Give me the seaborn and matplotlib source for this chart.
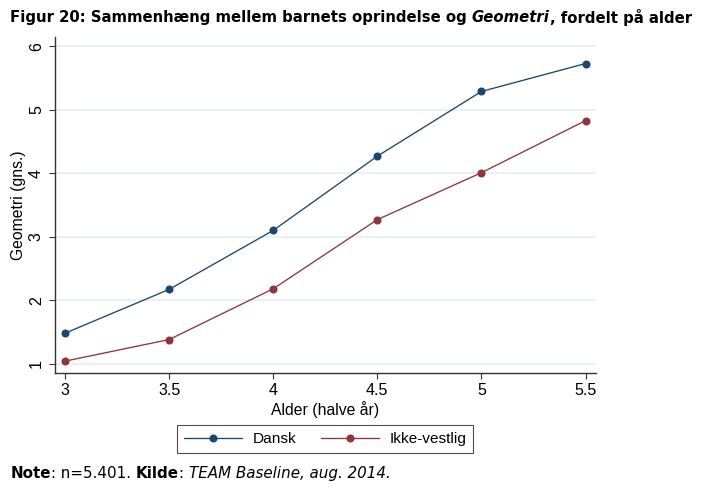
import matplotlib
matplotlib.use('Agg')
import matplotlib.pyplot as plt
import seaborn as sns
import pandas as pd

sns.set_theme(style='white')
plt.rcParams['font.family'] = ['Liberation Sans', 'DejaVu Sans']
plt.rcParams['text.color'] = 'black'
plt.rcParams['axes.labelcolor'] = 'black'
plt.rcParams['xtick.color'] = 'black'
plt.rcParams['ytick.color'] = 'black'

# data
alder = [3, 3.5, 4, 4.5, 5, 5.5]
dansk = [1.48, 2.17, 3.10, 4.27, 5.29, 5.73]
ikke_vestlig = [1.04, 1.38, 2.18, 3.27, 4.01, 4.83]
grupper = ['Dansk', 'Ikke-vestlig']
farver = ['#1a476f', '#90353b']

df = pd.DataFrame({
    'Alder': alder * 2,
    'Geometri': dansk + ikke_vestlig,
    'Gruppe': [grupper[0]] * len(alder) + [grupper[1]] * len(alder),
})

fig = plt.figure(figsize=(7.05, 4.94), dpi=100)
ax = fig.add_axes([0.078, 0.2443, 0.767, 0.681])

sns.lineplot(data=df, x='Alder', y='Geometri', hue='Gruppe', palette=farver,
             marker='o', markersize=5.8, markeredgewidth=0, linewidth=0.95,
             ax=ax, legend=False)

ax.set_xlim(2.952, 5.549)
ax.set_ylim(0.848, 6.15)
ax.set_xticks(alder)
ax.set_xticklabels(['3', '3.5', '4', '4.5', '5', '5.5'])
ax.set_yticks([1, 2, 3, 4, 5, 6])
ax.set_yticklabels(['1', '2', '3', '4', '5', '6'], rotation=90, va='center')
ax.tick_params(axis='both', which='both', length=4, width=0.8, color='#333333',
               labelsize=11.5, pad=3, left=True, bottom=True)
ax.tick_params(axis='y', pad=4)
ax.grid(axis='y', color='#e6eff1', linewidth=1.2)
ax.grid(axis='x', visible=False)
for side in ['top', 'right']:
    ax.spines[side].set_visible(False)
for side in ['left', 'bottom']:
    ax.spines[side].set_color('#333333')
    ax.spines[side].set_linewidth(1.0)

ax.set_xlabel('Alder (halve år)', fontsize=11.3, labelpad=2)
ax.set_ylabel('Geometri (gns.)', fontsize=11.3, labelpad=2)

handles = [plt.Line2D([], [], color=c, marker='o', markersize=5.8,
                      markeredgewidth=0, linewidth=0.95) for c in farver]
leg = ax.legend(handles, grupper, loc='upper center', bbox_to_anchor=(0.461, 0.1397),
                bbox_transform=fig.transFigure, borderaxespad=0,
                ncol=2, frameon=True, fancybox=False, edgecolor='#222222',
                fontsize=11.1, handlelength=3.8, handletextpad=0.65,
                columnspacing=1.6, borderpad=0.45)
leg.get_frame().set_linewidth(0.8)


def tekst_efter(forrige, s, y, **kw):
    # placer tekst lige efter den forrige
    fig.canvas.draw()
    x = forrige.get_window_extent().x1 / fig.bbox.width
    return fig.text(x, y, s, va='center', family='DejaVu Sans', **kw)


ty = 0.9636
t1 = fig.text(0.0142, ty, 'Figur 20: Sammenhæng mellem barnets oprindelse og ',
              fontsize=10.7, fontweight='bold', family='DejaVu Sans', va='center')
t2 = tekst_efter(t1, 'Geometri', ty, fontsize=10.7, fontweight='bold', style='italic')
tekst_efter(t2, ', fordelt på alder', ty, fontsize=10.7, fontweight='bold')

ny = 0.0415
n1 = fig.text(0.0152, ny, 'Note', fontsize=10.9, fontweight='bold',
              family='DejaVu Sans', va='center')
n2 = tekst_efter(n1, ': n=5.401. ', ny, fontsize=10.9)
n3 = tekst_efter(n2, 'Kilde', ny, fontsize=10.9, fontweight='bold')
n4 = tekst_efter(n3, ': ', ny, fontsize=10.9)
tekst_efter(n4, 'TEAM Baseline, aug. 2014.', ny, fontsize=10.9, style='italic')

fig.savefig('out.png', dpi=100)
